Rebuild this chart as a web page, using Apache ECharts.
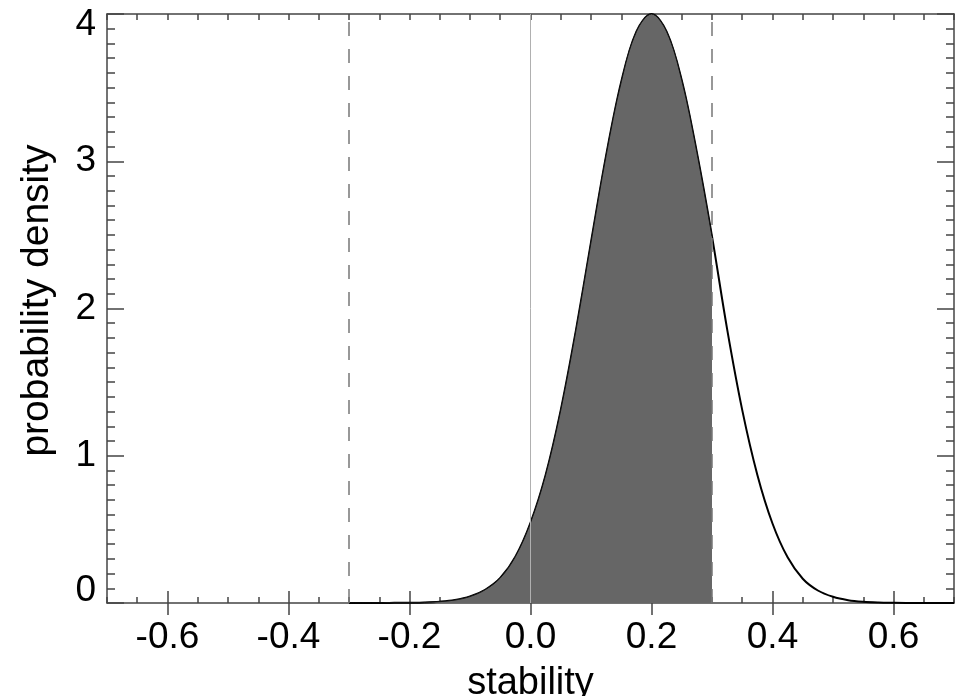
<!DOCTYPE html>
<html>
<head>
<meta charset="utf-8">
<script src="https://cdn.jsdelivr.net/npm/echarts@6/dist/echarts.min.js"></script>
<style>
html, body { margin: 0; padding: 0; background: #fff; }
#chart { width: 958px; height: 696px; }
</style>
</head>
<body>
<div id="chart"></div>
<script>
// 读图得到的数据
var stability = [-0.3, -0.275, -0.25, -0.225, -0.2, -0.175, -0.15, -0.125, -0.1, -0.075,
    -0.05, -0.025, 0, 0.025, 0.05, 0.075, 0.1, 0.125, 0.15, 0.175,
    0.2, 0.225, 0.25, 0.275, 0.3, 0.325, 0.35, 0.375, 0.4, 0.425,
    0.45, 0.475, 0.5, 0.525, 0.55, 0.575, 0.6, 0.625, 0.65, 0.675, 0.7];
var density = [0.000, 0.000, 0.000, 0.001, 0.002, 0.004, 0.009, 0.020, 0.044, 0.090,
    0.170, 0.315, 0.545, 0.87, 1.31, 1.85, 2.45, 3.04, 3.54, 3.88,
    4.00, 3.88, 3.55, 3.06, 2.49, 1.86, 1.31, 0.87, 0.54, 0.31,
    0.165, 0.085, 0.042, 0.019, 0.008, 0.003, 0.001, 0.000, 0.000, 0.000, 0.000];
var fillEnd = 0.3;            // 阴影区域右边界
var xLabelValues = [-0.6, -0.4, -0.2, 0, 0.2, 0.4, 0.6];
var boundaryX = [-0.3, 0.3];  // 虚线
var zeroX = [0];              // 灰色实线

var FONT = 'Liberation Sans';
var AX = '#444';
var LBL = 37;

var curve = stability.map(function (x, i) { return [x, density[i]]; });
var filled = curve.filter(function (p) { return p[0] <= fillEnd + 1e-9; });

function xAxisBase(pos) {
    return {
        type: 'value', position: pos, min: -0.7, max: 0.7,
        splitLine: { show: false },
        axisLine: { show: true, onZero: false, lineStyle: { color: AX, width: 1.5 } },
        axisLabel: { show: false },
        axisTick: { show: true, inside: true, length: 6, lineStyle: { color: AX, width: 1.5 } },
        interval: 0.05
    };
}

var xShortBottom = xAxisBase('bottom');
xShortBottom.axisLabel = {
    show: true, customValues: xLabelValues, margin: 16,
    fontFamily: FONT, fontSize: LBL, color: '#000',
    formatter: function (v) { return v.toFixed(1); }
};
xShortBottom.name = 'stability';
xShortBottom.nameLocation = 'middle';
xShortBottom.nameGap = 62;
xShortBottom.nameTextStyle = { fontFamily: FONT, fontSize: 38, color: '#000' };

var xLongBottom = xAxisBase('bottom');
xLongBottom.axisLine = { show: false };
xLongBottom.axisTick = { show: true, inside: true, length: 12, customValues: xLabelValues, lineStyle: { color: AX, width: 1.5 } };

var xShortTop = xAxisBase('top');
var xLongTop = xAxisBase('top');
xLongTop.axisLine = { show: false };
xLongTop.axisTick = { show: true, inside: true, length: 12, customValues: xLabelValues, lineStyle: { color: AX, width: 1.5 } };

function yAxisBase(pos) {
    return {
        type: 'value', position: pos, min: 0, max: 4, interval: 1,
        splitLine: { show: false },
        axisLine: { show: true, onZero: false, lineStyle: { color: AX, width: 1.5 } },
        axisTick: { show: true, inside: true, length: 17, lineStyle: { color: AX, width: 1.5 } },
        minorTick: { show: true, splitNumber: 10, length: 8, lineStyle: { color: AX, width: 1.5 } },
        axisLabel: { show: false }
    };
}
var yLeft = yAxisBase('left');
yLeft.axisLabel = {
    show: true, margin: 11, color: '#000',
    formatter: function (v) {
        if (v === 0) return '{lo|0}';
        if (v === 4) return '{hi|4}';
        return '{n|' + v + '}';
    },
    rich: {
        lo: { fontFamily: FONT, fontSize: LBL, color: '#000', padding: [0, 0, 24, 0] },
        hi: { fontFamily: FONT, fontSize: LBL, color: '#000', padding: [22, 0, 0, 0] },
        n: { fontFamily: FONT, fontSize: LBL, color: '#000' }
    }
};
yLeft.name = 'probability density';
yLeft.nameLocation = 'middle';
yLeft.nameGap = 50;
yLeft.nameTextStyle = { fontFamily: FONT, fontSize: 39, color: '#000', padding: [0, 0, 0, 16] };
var yRight = yAxisBase('right');

var chart = echarts.init(document.getElementById('chart'));
chart.setOption({
    animation: false,
    backgroundColor: '#fff',
    grid: { left: 107, right: 4, top: 14, bottom: 93, containLabel: false, outerBoundsMode: 'none' },
    xAxis: [xShortBottom, xLongBottom, xShortTop, xLongTop],
    yAxis: [yLeft, yRight],
    series: [
        {
            // x=0 的灰线
            type: 'line', data: [], z: 1, silent: true,
            markLine: {
                symbol: 'none', silent: true, label: { show: false },
                lineStyle: { color: '#b0b0b0', width: 1, type: 'solid' },
                data: zeroX.map(function (x) { return { xAxis: x }; })
            }
        },
        {
            // 阴影部分
            type: 'line', data: filled, z: 2, showSymbol: false,
            smooth: 0.35,
            lineStyle: { color: '#111', width: 1 },
            areaStyle: { color: '#666666', opacity: 1 }
        },
        {
            // 完整曲线
            type: 'line', data: curve, z: 1, showSymbol: false,
            smooth: 0.35,
            lineStyle: { color: '#000', width: 2 }
        },
        {
            // 虚线边界
            type: 'line', data: [], z: 4, silent: true,
            markLine: {
                symbol: 'none', silent: true, label: { show: false },
                lineStyle: { color: '#777', width: 1.5, type: [14, 13] },
                data: boundaryX.map(function (x) { return { xAxis: x }; })
            }
        }
    ]
});
</script>
</body>
</html>
